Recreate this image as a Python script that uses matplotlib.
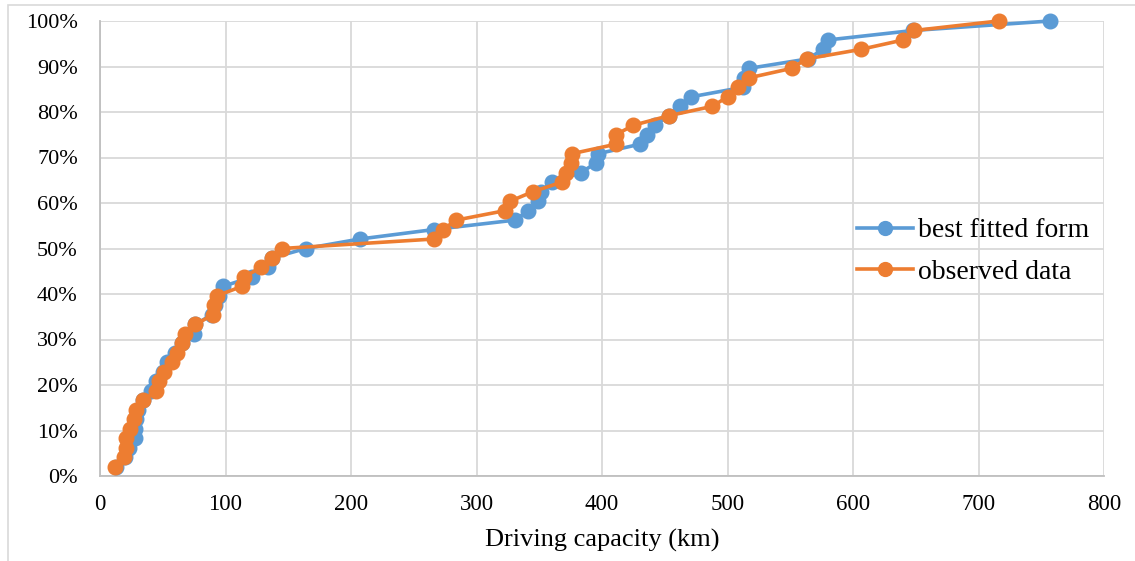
import numpy as np
import matplotlib.pyplot as plt
from matplotlib.ticker import PercentFormatter
from matplotlib.patches import Rectangle

plt.rcParams['font.family'] = ['Liberation Serif', 'DejaVu Serif']

# cumulative share (1/48 steps)
share = np.arange(1, 49) / 48 * 100

fitted_km = [13, 20, 23, 28, 28, 29, 30, 34, 41, 45, 50, 53, 60, 65, 75, 76,
             89, 92, 95, 98, 121, 134, 137, 164, 207, 266, 331, 341, 349, 351,
             360, 383, 395, 397, 430, 436, 442, 453, 462, 471, 512, 513, 517,
             564, 576, 580, 648, 757]
observed_km = [12, 19, 21, 21, 24, 27, 29, 34, 45, 47, 51, 57, 61, 65, 68, 76,
               90, 91, 93, 113, 115, 128, 137, 145, 266, 273, 284, 323, 327,
               345, 368, 371, 375, 376, 411, 411, 425, 453, 488, 500, 508, 517,
               551, 563, 606, 640, 649, 716]

blue = '#5B9BD5'
orange = '#ED7D31'

fig = plt.figure(figsize=(11.35, 5.61), dpi=100)
ax = fig.add_axes([100 / 1135, 1 - 476 / 561, 1004 / 1135, 455 / 561])

ax.plot(fitted_km, share, color=blue, lw=2.6, marker='o', ms=10.5,
        label='best fitted form', zorder=3, clip_on=False)
ax.plot(observed_km, share, color=orange, lw=2.6, marker='o', ms=10.5,
        label='observed data', zorder=4, clip_on=False)

ax.set_xlim(0, 800)
ax.set_ylim(0, 100)
ax.set_xticks(np.arange(0, 801, 100))
ax.set_yticks(np.arange(0, 101, 10))
ax.yaxis.set_major_formatter(PercentFormatter(decimals=0))
ax.grid(True, color='#D9D9D9', lw=1.3, zorder=0)
ax.set_axisbelow(True)
for s in ['top', 'right']:
    ax.spines[s].set_visible(False)
for s in ['left', 'bottom']:
    ax.spines[s].set_color('#BFBFBF')
    ax.spines[s].set_linewidth(1.3)
ax.tick_params(length=0, colors='#000000')
ax.tick_params(axis='y', pad=16, labelsize=16)
ax.tick_params(axis='x', pad=13, labelsize=16.5)
ax.set_xlabel('Driving capacity (km)', fontsize=19, labelpad=10)

ax.legend(loc='upper left', bbox_to_anchor=(857 / 1135, 1 - 218 / 561),
          bbox_transform=fig.transFigure, frameon=False, fontsize=20,
          handlelength=2.0, handletextpad=0.2, labelspacing=0.58,
          borderpad=0, borderaxespad=0, markerscale=0.95)

fig.patches.append(Rectangle((8 / 1135, -0.01), 1.2, 1 - 5 / 561 + 0.01,
                             transform=fig.transFigure, fill=False,
                             ec='#D9D9D9', lw=1.2))

fig.savefig('out.png', dpi=100)
